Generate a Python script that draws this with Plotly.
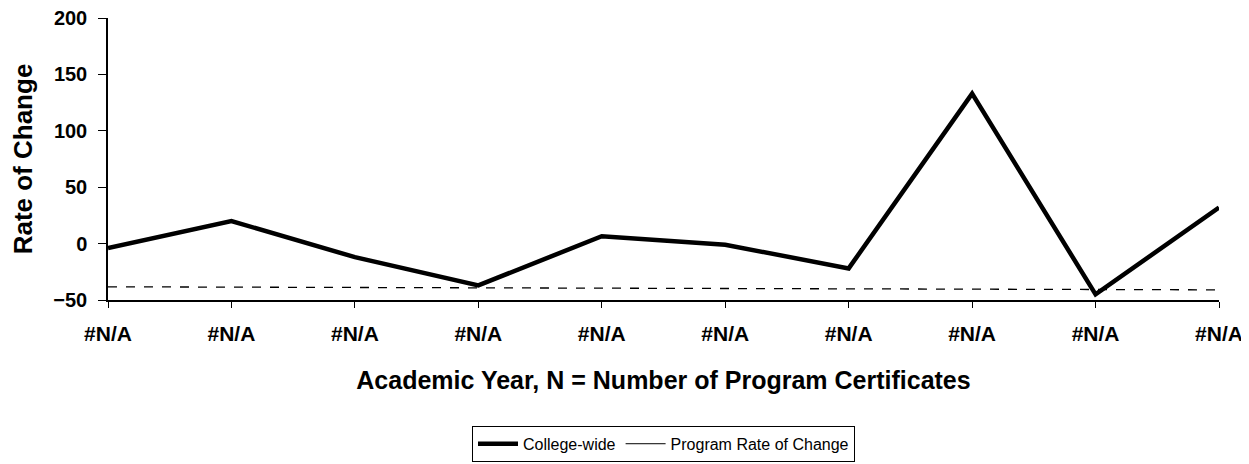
import plotly.graph_objects as go

categories = ["#N/A"] * 10
x_pos = list(range(10))
college_wide = [-4, 20, -12, -37, 6.5, -1, -22, 133, -45, 32]
program_rate = [-38.3, -38.6, -38.9, -39.2, -39.5, -39.8, -40.1, -40.4, -40.7, -41]
y_ticks = [-50, 0, 50, 100, 150, 200]

FONT = "Arial, 'Liberation Sans', sans-serif"

fig = go.Figure()
fig.add_trace(go.Scatter(
    x=x_pos, y=program_rate, mode="lines", name="Program Rate of Change",
    line=dict(color="black", width=1.3, dash="dash"), showlegend=False,
))
fig.add_trace(go.Scatter(
    x=x_pos, y=college_wide, mode="lines", name="College-wide",
    line=dict(color="black", width=4.5),
))
fig.add_trace(go.Scatter(
    x=[None], y=[None], mode="lines", name="Program Rate of Change",
    line=dict(color="black", width=1),
))

fig.update_layout(
    width=1241, height=456,
    margin=dict(l=100, r=30, t=10, b=164, autoexpand=False),
    paper_bgcolor="white", plot_bgcolor="white",
    font=dict(family=FONT, color="black"),
    showlegend=True,
    legend=dict(
        orientation="h", x=0.5, y=-0.51, xanchor="center", yanchor="middle",
        bordercolor="black", borderwidth=1, bgcolor="white",
        font=dict(size=16, family=FONT, color="black"),
        itemwidth=40, tracegroupgap=0,
    ),
)
fig.update_xaxes(
    range=[0, 9], tickmode="array", tickvals=x_pos, ticktext=categories,
    showline=True, linecolor="black", linewidth=1.5, automargin=False,
    ticks="outside", ticklen=6, tickcolor="black", tickwidth=1,
    ticklabelstandoff=8, ticklabeloverflow="allow",
    showgrid=False, zeroline=False,
    tickfont=dict(size=21, family=FONT, color="black", weight="bold"),
    title=dict(text="<b>Academic Year, N = Number of Program Certificates</b>",
               font=dict(size=25, family=FONT, color="black"), standoff=28),
)
fig.update_yaxes(
    range=[-50, 200], tickmode="array", tickvals=y_ticks,
    showline=True, linecolor="black", linewidth=1.5, automargin=False,
    ticks="outside", ticklen=8, tickcolor="black", tickwidth=1,
    ticklabelstandoff=7, ticklabeloverflow="allow",
    showgrid=False, zeroline=False,
    tickfont=dict(size=20, family=FONT, color="black", weight="bold"),
    title=dict(text="<b>Rate of Change</b>",
               font=dict(size=26, family=FONT, color="black"), standoff=14),
)

fig.write_html("out.html")
